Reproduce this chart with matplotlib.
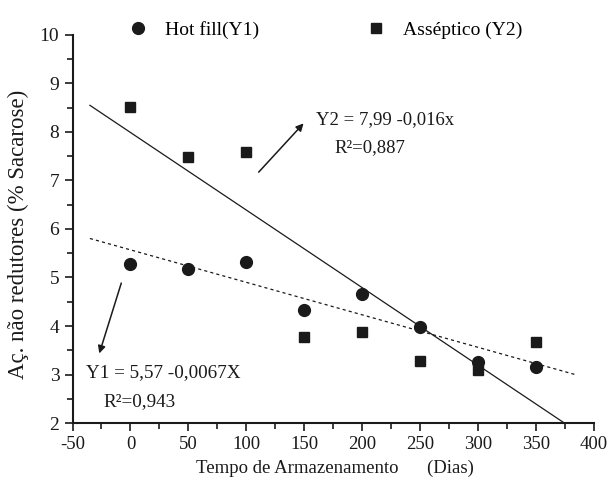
import matplotlib.pyplot as plt
import numpy as np

plt.rcParams['font.family'] = ['Liberation Serif', 'DejaVu Serif']
plt.rcParams['axes.unicode_minus'] = False

# storage time (days)
dias = [0, 50, 100, 150, 200, 250, 300, 350]
# Hot fill (Y1) and Asséptico (Y2)
hot_fill = [5.28, 5.18, 5.31, 4.33, 4.66, 3.98, 3.25, 3.16]
asseptico = [8.51, 7.49, 7.59, 3.77, 3.87, 3.27, 3.10, 3.66]

# regression coefficients (intercept, slope)
fit_y1 = (5.57, -0.0067)
fit_y2 = (7.99, -0.016)
x_fit_y1 = [-35, 385]
x_fit_y2 = [-35, 385]

ink = '#1a1a1a'

fig = plt.figure(figsize=(6.11, 4.82), dpi=100)
ax = fig.add_axes([0.1187, 0.1224, 0.8535, 0.805])

ax.plot(dias, hot_fill, 'o', color=ink, markersize=8.5, label='Hot fill(Y1)', zorder=3)
ax.plot(dias, asseptico, 's', color=ink, markersize=7, label='Asséptico (Y2)', zorder=3)

xf = np.array(x_fit_y2)
ax.plot(xf, fit_y2[0] + fit_y2[1] * xf, '-', color=ink, lw=0.9)
xf = np.array(x_fit_y1)
ax.plot(xf, fit_y1[0] + fit_y1[1] * xf, color=ink, lw=0.9, linestyle=(0, (2.5, 2.5)))

# equations
ax.annotate('', xy=(151, 8.22), xytext=(109, 7.13),
            arrowprops=dict(arrowstyle='-|>', color=ink, lw=1.1, mutation_scale=11))
ax.text(160, 8.26, 'Y2 = 7,99 -0,016x', fontsize=13.5, va='center', color=ink)
ax.text(176, 7.68, 'R²=0,887', fontsize=13.5, va='center', color=ink)

ax.annotate('', xy=(-27.6, 3.38), xytext=(-7.2, 4.94),
            arrowprops=dict(arrowstyle='-|>', color=ink, lw=1.1, mutation_scale=11))
ax.text(-38.5, 3.04, 'Y1 = 5,57 -0,0067X', fontsize=13.8, va='center', color=ink)
ax.text(-23.5, 2.44, 'R²=0,943', fontsize=13.8, va='center', color=ink)

ax.set_xlim(-50, 400)
ax.set_ylim(2, 10)
ax.set_xticks(np.arange(-50, 401, 50))
ax.set_xticks(np.arange(-25, 400, 50), minor=True)
ax.set_yticks(np.arange(2, 11, 1))
ax.set_yticks(np.arange(2.5, 10, 1), minor=True)
ax.tick_params(which='both', direction='out', width=1.2, colors=ink)
ax.tick_params(axis='x', labelsize=13.5)
ax.tick_params(axis='y', labelsize=14)
ax.tick_params(which='major', length=6)
ax.tick_params(which='minor', length=4)
for s in ['top', 'right']:
    ax.spines[s].set_visible(False)
for s in ['left', 'bottom']:
    ax.spines[s].set_linewidth(1.5)
    ax.spines[s].set_color(ink)

ax.set_xlabel('Tempo de Armazenamento      (Dias)', fontsize=13.5, color=ink)
ax.set_ylabel('Aç. não redutores (% Sacarose)', fontsize=16.5, color=ink)
ax.xaxis.set_label_coords(0.503, -0.095)
ax.yaxis.set_label_coords(-0.083, 0.487)

ax.legend(loc='center', bbox_to_anchor=(0.48, 1.013), ncol=2, frameon=False,
          fontsize=14, columnspacing=5.3, handletextpad=0.64, handlelength=1.5)

plt.savefig('out.png')
